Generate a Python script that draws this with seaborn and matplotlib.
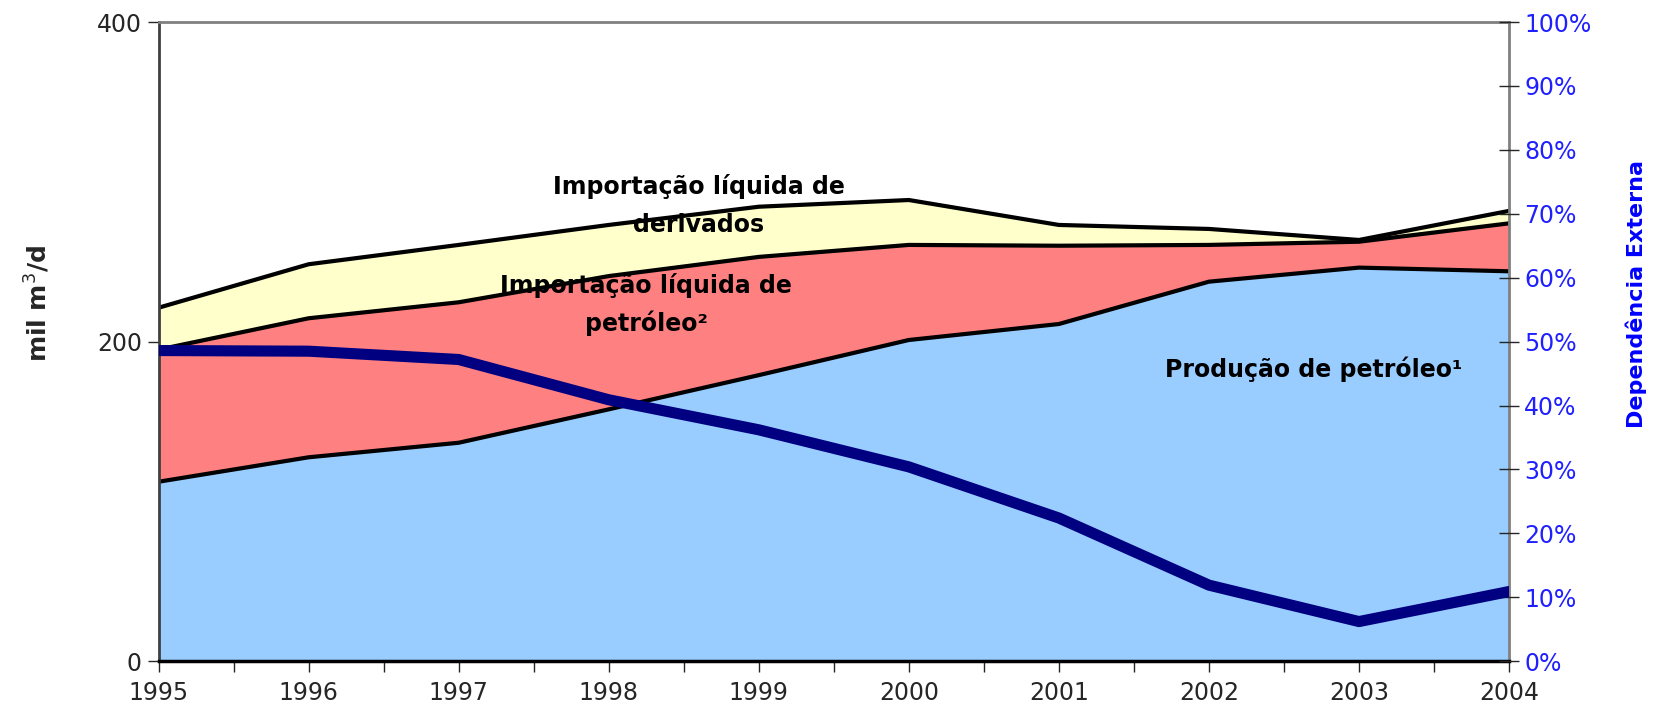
import numpy as np
import pandas as pd
import matplotlib
matplotlib.use("Agg")
import matplotlib.pyplot as plt
import seaborn as sns

years = [1995, 1996, 1997, 1998, 1999, 2000, 2001, 2002, 2003, 2004]
producao = [112.3, 127.6, 136.7, 157.6, 179.0, 201.0, 211.0, 237.5, 246.3, 244.0]
import_petroleo = [82.7, 87.0, 87.9, 83.4, 74.0, 59.5, 49.0, 23.0, 16.2, 30.0]
import_derivados = [26.2, 33.8, 35.9, 32.0, 31.4, 28.1, 13.0, 10.0, 1.1, 7.8]
dependencia = [48.6, 48.5, 47.2, 40.9, 36.2, 30.4, 22.4, 11.9, 6.2, 10.9]

sns.set_style("white")
plt.rcParams['font.family'] = ['DejaVu Sans']

df = pd.DataFrame({"ano": years, "prod": producao,
                   "petr": import_petroleo, "deriv": import_derivados,
                   "dep": dependencia})
df["top_petr"] = df["prod"] + df["petr"]
df["top_deriv"] = df["top_petr"] + df["deriv"]

fig = plt.figure(figsize=(16.57, 7.19), dpi=100)
ax = fig.add_axes([0.0957, 0.0804, 0.8150, 0.8890])

ax.fill_between(df["ano"], 0, df["prod"], color="#99CCFF", lw=0)
ax.fill_between(df["ano"], df["prod"], df["top_petr"], color="#FF8080", lw=0)
ax.fill_between(df["ano"], df["top_petr"], df["top_deriv"], color="#FFFFCC", lw=0)
for col in ["prod", "top_petr", "top_deriv"]:
    sns.lineplot(data=df, x="ano", y=col, ax=ax, color="black", lw=3)

ax.set_xlim(1995, 2004)
ax.set_ylim(0, 400)
ax.set_yticks([0, 200, 400])
ax.set_xticks(years)
ax.set_xticks(np.arange(1995.5, 2004, 1), minor=True)
ax.tick_params(axis="x", which="both", direction="out", length=8, width=1,
               bottom=True, labelsize=17, pad=6)
ax.tick_params(axis="y", direction="out", length=8, width=1, left=True,
               labelsize=17, pad=4)
ax.set_xlabel("")
ax.set_ylabel("mil m$^3$/d", fontsize=18, fontweight="bold")
ax.yaxis.set_label_coords(-0.079, 0.56)

for s in ["top", "right"]:
    ax.spines[s].set_color("#808080")
    ax.spines[s].set_linewidth(2)
ax.spines["left"].set_color("#404040")
ax.spines["left"].set_linewidth(2)
ax.spines["bottom"].set_color("black")
ax.spines["bottom"].set_linewidth(2.5)

ax2 = ax.twinx()
sns.lineplot(data=df, x="ano", y="dep", ax=ax2, color="#000080", lw=8)
ax2.set_ylim(0, 100)
ax2.set_yticks(np.arange(0, 101, 10))
ax2.set_yticklabels([f"{v}%" for v in range(0, 101, 10)])
ax2.tick_params(axis="y", direction="inout", length=14, width=1, right=True,
                labelsize=17, labelcolor="#2020FF", pad=4)
ax2.set_ylabel("Dependência Externa", fontsize=16, fontweight="bold",
               color="#0000FF")
ax2.yaxis.set_label_coords(1.086, 0.575)
for s in ax2.spines.values():
    s.set_visible(False)
ax2.set_xlim(1995, 2004)

txt = dict(fontsize=17, fontweight="bold", ha="center", va="center", color="black")
ax.text(1998.6, 285, "Importação líquida de\nderivados", linespacing=1.75, **txt)
ax.text(1998.25, 223, "Importação líquida de\npetróleo²", linespacing=1.6, **txt)
ax.text(2002.7, 183, "Produção de petróleo¹", **txt)

fig.savefig("out.png", dpi=100)
